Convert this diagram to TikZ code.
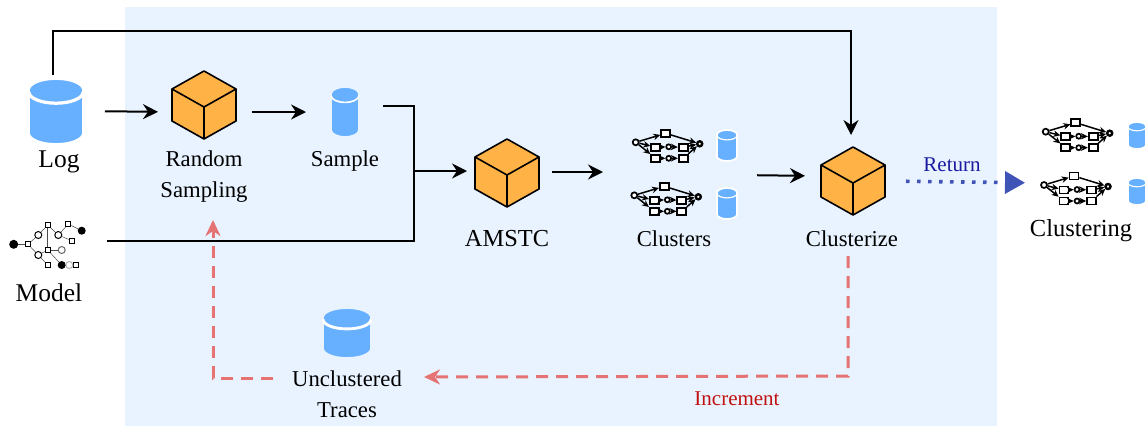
\documentclass[tikz,border=0pt]{standalone}
\usepackage{fontspec}
\setmainfont{Liberation Serif}
\usetikzlibrary{arrows.meta,calc}
\definecolor{panel}{HTML}{E8F3FF}
\definecolor{dbblue}{HTML}{66B0FF}
\definecolor{cubeor}{HTML}{FFB347}
\definecolor{redline}{HTML}{E57373}
\definecolor{blueline}{HTML}{4054B8}
\definecolor{rettext}{HTML}{1A1AA0}
\definecolor{inctext}{HTML}{C01010}
\tikzset{
  anchorbox/.style={inner sep=0pt,outer sep=0pt,minimum width=#1},
  conn/.style={draw=black,line width=2pt,-{Stealth[length=15pt,width=15pt,inset=5pt]}},
  plainconn/.style={draw=black,line width=2pt},
  redconn/.style={draw=redline,line width=3pt,dash pattern=on 12pt off 8pt,-{Stealth[length=16pt,width=15pt,inset=5pt]}},
  blueconn/.style={draw=blueline,line width=3.6pt,dash pattern=on 3.5pt off 7.5pt,-{Triangle[length=20pt,width=22pt]}},
  lab/.style={inner sep=0pt,font=\fontsize{22.7pt}{27pt}\selectfont,align=center},
  biglab/.style={inner sep=0pt,font=\fontsize{25.5pt}{30pt}\selectfont,align=center},
  smalllab/.style={inner sep=0pt,font=\fontsize{21pt}{25pt}\selectfont},
  place/.style={draw=black,fill=white,line width=1pt,circle,inner sep=0pt,minimum size=#1},
  trans/.style={draw=black,fill=white,line width=1pt,rectangle,inner sep=0pt,minimum size=#1},
  token/.style={fill=black,circle,inner sep=0pt,minimum size=#1},
  arc small/.style={draw=black!70,line width=.5pt},
  netp/.style={draw=black,fill=white,line width=1.7pt,circle,inner sep=0pt,minimum size=6pt},
  nett/.style={draw=black,fill=white,line width=1.7pt,rectangle,inner sep=0pt,minimum width=9pt,minimum height=7pt},
  netarc/.style={draw=black,line width=1.5pt,-{Stealth[length=7pt,width=6.5pt]}},
}
% cube: centre vertex at (#1,#2)
\newcommand{\cubeicon}[2]{%
\begin{scope}[shift={(#1,#2)}]
 \draw[fill=cubeor,line width=1.6pt,line join=round] (0,-36)--(32,-18)--(32,14)--(0,32)--(-32,14)--(-32,-18)--cycle;
 \draw[line width=1.6pt,line join=round] (-32,-18)--(0,0)--(32,-18) (0,0)--(0,32);
\end{scope}}
% cylinder: #1 cx, #2 top, #3 half width, #4 ry, #5 height, #6 halo
\newcommand{\cylicon}[6]{%
\begin{scope}[shift={(#1,#2)}]
 \path[fill=dbblue,draw=#6,line width=1.8pt] (-#3,#4) -- (-#3,#5-#4)
   arc[start angle=180,end angle=360,x radius=#3pt,y radius=#4pt]
   -- (#3,#4) arc[start angle=0,end angle=180,x radius=#3pt,y radius=#4pt] -- cycle;
 \draw[white,line width=#3*0.12pt] (-#3,#4+#4*0.2)
   arc[start angle=180,end angle=360,x radius=#3pt,y radius=#4pt];
\end{scope}}
% small workflow net, source at (#1,#2)
\newcommand{\neticon}[2]{%
\begin{scope}[shift={(#1,#2)}]
 \node[netp] (s) at (0,0) {};
 \node[nett] (t0) at (30,-9) {};
 \node[nett] (m1) at (20,5) {};
 \node[netp,minimum size=5pt] (mc) at (33,4.5) {};
 \node[nett] (m2) at (47.5,5) {};
 \node[nett] (l1) at (20,16) {};
 \node[netp,minimum size=5pt] (lc) at (33,16) {};
 \node[nett] (l2) at (47.5,16) {};
 \node[draw=black,fill=white,line width=2.4pt,circle,inner sep=0pt,minimum size=5pt] (e) at (64,1.5) {};
 \draw[netarc] (s) -- (t0);
 \draw[netarc] (s) -- (m1);
 \draw[netarc] (s) -- (l1);
 \draw[netarc] (m1) -- (mc);
 \draw[netarc] (l1) -- (lc);
 \draw[netarc] (mc) -- (m2);
 \draw[netarc] (lc) -- (l2);
 \draw[netarc] (t0) -- (e);
 \draw[netarc] (m2) -- (e);
 \draw[netarc] (l2) -- (e);
\end{scope}}
\begin{document}
\begin{tikzpicture}[x=1pt,y=-1pt]
\useasboundingbox (0,0) rectangle (1147,426);
\fill[panel] (125,7) rectangle (997,426);

% icons
\cylicon{56}{79}{27}{11}{65}{white}
\cylicon{345}{87}{14}{7}{50}{panel}
\cylicon{347}{308}{24}{9.5}{50}{panel}
\cylicon{727}{130}{10}{4.5}{31}{white}
\cylicon{727}{188}{10}{4.5}{31}{white}
\cylicon{1137}{122}{9}{4}{27}{white}
\cylicon{1137}{178}{9}{4}{27}{white}
\cubeicon{204}{107}
\cubeicon{507}{175}
\cubeicon{853}{183}
\neticon{635.7}{142.3}
\neticon{634.3}{195.3}
\neticon{1045.7}{131.7}
\neticon{1044}{185}

% process model icon
\node[token=9pt] (mA) at (13.7,244.3) {};
\node[token=8pt] (mB) at (81.7,230.7) {};
\node[token=8pt] (mC) at (61.7,265) {};
\node[trans=5pt] (mT1) at (28,244.3) {};
\node[trans=5pt] (mT2) at (47.7,225) {};
\node[trans=5pt] (mT3) at (68.3,224) {};
\node[trans=5pt] (mT4) at (71.7,240.7) {};
\node[trans=5pt] (mT5) at (47.7,250) {};
\node[trans=5pt] (mT6) at (47.7,265) {};
\node[trans=5pt] (mT7) at (76,265) {};
\node[place=7pt] (mP1) at (38.3,235) {};
\node[place=7pt] (mP2) at (58.3,235) {};
\node[place=7pt,draw=black!60] (mP3) at (61.7,250) {};
\node[place=7pt] (mP4) at (38.3,255) {};
\node[place=7pt,draw=black!30] (mP5) at (69.3,265) {};
\draw[arc small] (mA) -- (mT1);
\draw[arc small] (mT1) -- (mP1);
\draw[arc small] (mT1) -- (mP4);
\draw[arc small] (mP1) -- (mT2);
\draw[arc small] (mP2) -- (mT3);
\draw[arc small] (mT3) -- (mB);
\draw[arc small] (mP2) -- (mT4);
\draw[arc small] (mP4) -- (mT5);
\draw[arc small] (mT5) -- (mP3);
\draw[arc small] (mT5) -- (mC);
\draw[arc small] (mP4) -- (mT6);
\draw[arc small] (mC) -- (mP5);
\draw[arc small] (mP5) -- (mT7);
\draw[arc small] (mT2) -- (mP2);
\draw[arc small] (mT5) -- (mT2);

% anchor nodes for connectors
\node[anchorbox=60pt,minimum height=64pt] (log) at (53,111) {};
\node[anchorbox=64pt,minimum height=50pt] (rs) at (204,112) {};
\node[anchorbox=28pt,minimum height=50pt] (sample) at (345,106) {};
\node[anchorbox=68pt,minimum height=40pt] (model) at (49,241) {};
\node[anchorbox=64pt,minimum height=60pt] (amstc) at (507,172) {};
\node[anchorbox=104pt,minimum height=60pt] (clusters) at (686,175) {};
\node[anchorbox=64pt,minimum height=68pt] (cz) at (851,181) {};
\node[anchorbox=100pt,minimum height=60pt] (clustering) at (1095,183) {};
\coordinate (corner) at (851,31);
\coordinate (merge) at (414,171);
\coordinate (sampleout) at (414,106);
\coordinate (modelout) at (414,241);
\coordinate (incstart) at (848,256);
\coordinate (inccorner) at (848,376);
\coordinate (uctarget) at (424,377);
\coordinate (ucstart) at (273,378);
\coordinate (uccorner) at (213,378);
\coordinate (rstarget) at (213,220);

% labels
\node[biglab] (loglab) at (59,162) {Log};
\node[lab] (rslab) at (204,176.5) {Random\\[4.5pt]Sampling};
\node[lab] (samplelab) at (345,161) {Sample};
\node[biglab] (modellab) at (49,292.5) {Model};
\node[biglab,font=\fontsize{24.4pt}{29pt}\selectfont] (amstclab) at (507,238.5) {AMSTC};
\node[lab] (clusterslab) at (674,238.5) {Clusters};
\node[lab] (czlab) at (852,238.5) {Clusterize};
\node[biglab,font=\fontsize{24.5pt}{29pt}\selectfont] (clusteringlab) at (1081,230.5) {Clustering};
\node[lab] (uclab) at (347,394) {Unclustered\\[4.5pt]Traces};
\node[smalllab,text=rettext] (retlab) at (952,164.5) {Return};
\node[smalllab,text=inctext] (inclab) at (737,398.5) {Increment};

% connectors
\draw[conn,shorten <=22pt,shorten >=14pt] (log.east) -- (rs.west);
\draw[conn,shorten <=16pt,shorten >=25pt] (rs.east) -- ([yshift=-6pt]sample.west);
\draw[plainconn,shorten <=24pt] (sample.east) -- (sampleout) -- (merge);
\draw[plainconn,shorten <=24pt,line join=miter] (model.east) -- (modelout) -- (merge);
\draw[conn,line join=miter,shorten >=8pt] (merge) -- ([yshift=1pt]amstc.west);
\draw[conn,shorten <=13pt,shorten >=31pt] (amstc.east) -- ([yshift=3pt]clusters.west);
\draw[conn,shorten <=19pt,shorten >=14pt] (clusters.east) -- ([yshift=5pt]cz.west);
\draw[conn,shorten <=4pt,shorten >=12pt,line join=miter] (log.north) |- (corner) -- (cz.north);
\draw[redconn] (incstart) -- (inccorner) -- (uctarget);
\draw[redconn] (ucstart) -- (uccorner) -- (rstarget);
\draw[blueconn,shorten <=23pt,shorten >=20pt] (cz.east) -- (clustering.west);
\end{tikzpicture}
\end{document}
